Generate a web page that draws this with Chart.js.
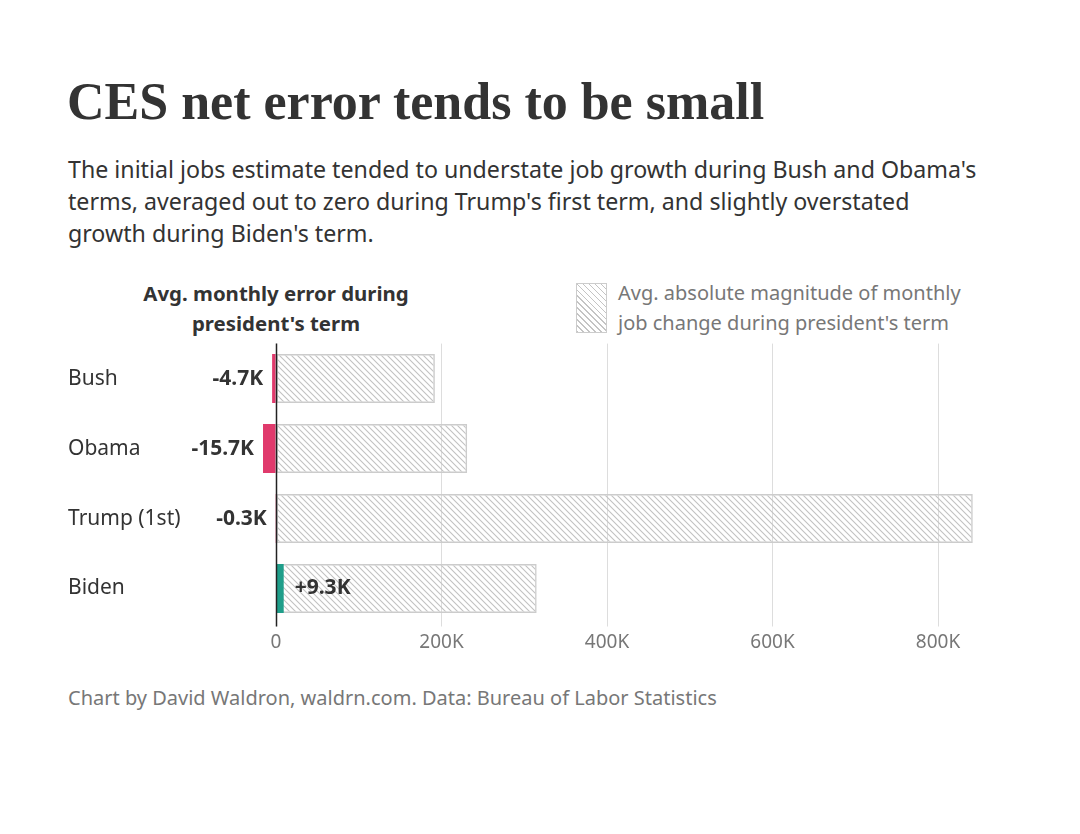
<!DOCTYPE html>
<html>
<head>
<meta charset="utf-8">
<script src="https://cdn.jsdelivr.net/npm/chart.js@4.4.1/dist/chart.umd.min.js"></script>
<style>
  body { margin: 0; background: #fff; width: 1080px; height: 834px; position: relative; overflow: hidden;
         font-family: "Noto Sans", sans-serif; color: #333; }
  #title { position: absolute; left: 67px; top: 72px; font: bold 52px "Liberation Serif", serif; color: #333; white-space: nowrap; }
  #sub { position: absolute; left: 68px; top: 153px; font-size: 23.2px; line-height: 32px; color: #333; white-space: nowrap; }
  #hdr { position: absolute; left: 76px; width: 400px; top: 278px; text-align: center; font-weight: bold;
         font-size: 20.4px; line-height: 30px; color: #333; }
  #lgbox { position: absolute; left: 576px; top: 283px; width: 29px; height: 48px; border: 1px solid #ccc;
           background: repeating-linear-gradient(45deg, #c4c4c4 0 1px, transparent 1px 4.2px); }
  #lgtxt { position: absolute; left: 618px; top: 278px; font-size: 20px; line-height: 30px; color: #777; white-space: nowrap; }
  #foot { position: absolute; left: 68px; top: 684px; font-size: 20px; color: #777; white-space: nowrap; }
  #wrap { position: absolute; left: 0; top: 328px; width: 1080px; height: 340px; }
</style>
</head>
<body>
<div id="title">CES net error tends to be small</div>
<div id="sub">The initial jobs estimate tended to understate job growth during Bush and Obama's<br>terms, averaged out to zero during Trump's first term, and slightly overstated<br>growth during Biden's term.</div>
<div id="hdr">Avg. monthly error during<br>president's term</div>
<div id="lgbox"></div>
<div id="lgtxt">Avg. absolute magnitude of monthly<br>job change during president's term</div>
<div id="wrap"><canvas id="chart"></canvas></div>
<div id="foot">Chart by David Waldron, waldrn.com. Data: Bureau of Labor Statistics</div>

<script>
// data
var presidents = ["Bush", "Obama", "Trump (1st)", "Biden"];
var netError = [-4700, -15700, -300, 9300];          // avg monthly error
var absChange = [192000, 231000, 842000, 315000];    // avg absolute monthly job change
var tickValues = [0, 200000, 400000, 600000, 800000];
var tickLabels = ["0", "200K", "400K", "600K", "800K"];

function hatch() {
    var pc = document.createElement('canvas');
    pc.width = 6; pc.height = 6;
    var g = pc.getContext('2d');
    g.strokeStyle = '#c2c2c2';
    g.lineWidth = 1.1;
    g.beginPath();
    g.moveTo(-1, -1); g.lineTo(7, 7);
    g.moveTo(-1, 5); g.lineTo(1, 7);
    g.moveTo(5, -1); g.lineTo(7, 1);
    g.stroke();
    return g.createPattern(pc, 'repeat');
}

function fmtK(v) {
    return (v > 0 ? '+' : '') + (v / 1000).toFixed(1) + 'K';
}

var extras = {
    id: 'extras',
    afterDatasetsDraw: function(chart) {
        var ctx = chart.ctx, x = chart.scales.x, y = chart.scales.y, a = chart.chartArea;
        // zero line
        var x0 = Math.round(x.getPixelForValue(0)) + 0.5;
        ctx.save();
        ctx.strokeStyle = '#222';
        ctx.lineWidth = 1.5;
        ctx.beginPath();
        ctx.moveTo(x0, a.top);
        ctx.lineTo(x0, a.bottom + 3);
        ctx.stroke();
        // value labels
        ctx.font = 'bold 21px "Noto Sans"';
        ctx.fillStyle = '#333';
        ctx.textBaseline = 'middle';
        netError.forEach(function(v, i) {
            var yy = y.getPixelForValue(i);
            if (v < 0) {
                ctx.textAlign = 'right';
                ctx.fillText(fmtK(v), x.getPixelForValue(v) - 9, yy);
            } else {
                ctx.textAlign = 'left';
                ctx.fillText(fmtK(v), x.getPixelForValue(v) + 11, yy);
            }
        });
        ctx.restore();
    }
};

var ctx = document.getElementById('chart');
var myChart = new Chart(ctx, {
    type: 'bar',
    data: {
        labels: presidents,
        datasets: [
            {
                label: 'Avg. monthly error',
                data: netError,
                backgroundColor: netError.map(function(v) { return v < 0 ? '#e03a6c' : '#1f9e8a'; }),
                borderWidth: 0,
                order: 0
            },
            {
                label: 'Avg. absolute magnitude',
                data: absChange,
                backgroundColor: hatch(),
                borderColor: '#cccccc',
                borderWidth: 1.5,
                borderSkipped: false,
                order: 1
            }
        ]
    },
    options: {
        indexAxis: 'y',
        responsive: true,
        maintainAspectRatio: false,
        animation: false,
        grouped: false,
        barPercentage: 0.7,
        categoryPercentage: 1,
        layout: { padding: { left: 68, right: 100.6, top: 11.5, bottom: 0 } },
        plugins: { legend: { display: false }, tooltip: { enabled: false } },
        scales: {
            x: {
                min: -20000,
                max: 850000,
                afterBuildTicks: function(s) { s.ticks = tickValues.map(function(v) { return { value: v }; }); },
                afterFit: function(s) { s.height = 44.5; },
                grid: { color: '#dddddd', lineWidth: 1, tickLength: 3 },
                border: { display: false },
                ticks: {
                    padding: 5,
                    color: '#777',
                    font: { family: 'Noto Sans', size: 19 },
                    callback: function(v) { return tickLabels[tickValues.indexOf(v)]; }
                }
            },
            y: {
                afterFit: function(s) { s.width = 191.45; },
                grid: { display: false },
                border: { display: false },
                ticks: {
                    crossAlign: 'far',
                    color: '#333',
                    font: { family: 'Noto Sans', size: 21 }
                }
            }
        }
    },
    plugins: [extras]
});
</script>
</body>
</html>
